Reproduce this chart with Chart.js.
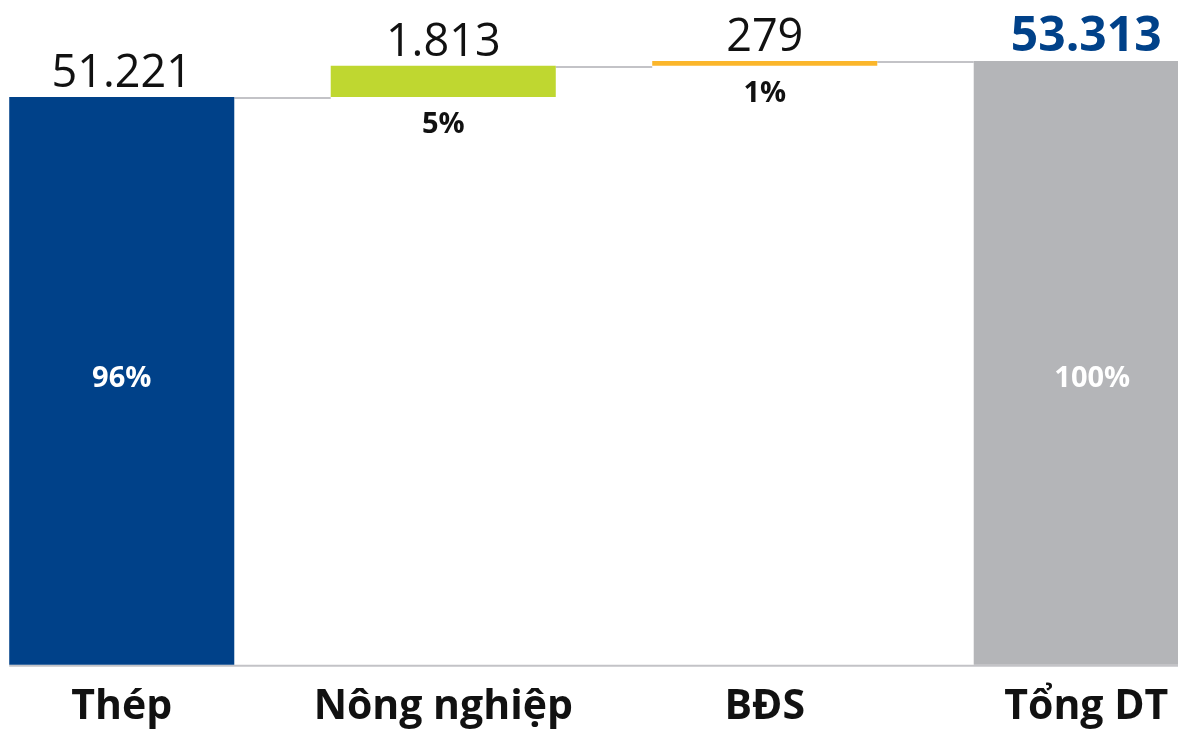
<!DOCTYPE html>
<html>
<head>
<meta charset="utf-8">
<script src="https://cdn.jsdelivr.net/npm/chart.js@4"></script>
<style>
  html, body { margin: 0; padding: 0; background: #ffffff; overflow: hidden; }
  body { width: 1178px; height: 730px; position: relative; }
  #wrap { position: absolute; left: -39px; top: 0; width: 1286px; height: 730px; }
</style>
</head>
<body>
<div id="wrap"><canvas id="c"></canvas></div>
<script>
const categories = ["Thép", "Nông nghiệp", "BĐS", "Tổng DT"];
const values = [51221, 1813, 279, 53313];
const isTotal = [false, false, false, true];
const valueLabels = ["51.221", "1.813", "279", "53.313"];
const percentLabels = ["96%", "5%", "1%", "100%"];
const colors = ["#004189", "#bfd730", "#fbb62b", "#b4b5b8"];

// build floating ranges for the waterfall
const ranges = [];
let run = 0;
values.forEach((v, i) => {
  if (isTotal[i]) { ranges.push([0, v]); run = v; }
  else { ranges.push([run, run + v]); run += v; }
});

const FONT = "'Open Sans', 'Noto Sans', sans-serif";

const waterfallDecor = {
  id: 'waterfallDecor',
  beforeDatasetsDraw(chart) {
    const ctx = chart.ctx;
    const meta = chart.getDatasetMeta(0);
    const y = chart.scales.y;
    const area = chart.chartArea;
    ctx.save();
    ctx.strokeStyle = '#c3c3c7';
    ctx.lineWidth = 2;
    for (let i = 0; i < meta.data.length - 1; i++) {
      const a = meta.data[i], b = meta.data[i + 1];
      const level = ranges[i][1];
      const py = Math.round(y.getPixelForValue(level)) + 1;
      ctx.beginPath();
      ctx.moveTo(a.x + a.width / 2, py);
      ctx.lineTo(b.x - b.width / 2, py);
      ctx.stroke();
    }
    const first = meta.data[0];
    ctx.beginPath();
    ctx.moveTo(first.x - first.width / 2, area.bottom + 1);
    ctx.lineTo(area.right, area.bottom + 1);
    ctx.stroke();
    ctx.restore();
  },
  afterDatasetsDraw(chart) {
    const ctx = chart.ctx;
    const meta = chart.getDatasetMeta(0);
    const y = chart.scales.y;
    const area = chart.chartArea;
    const insideY = (y.getPixelForValue(ranges[0][1]) + area.bottom) / 2 - 2;
    ctx.save();
    ctx.textAlign = 'center';
    meta.data.forEach((bar, i) => {
      const top = y.getPixelForValue(ranges[i][1]);
      const bottom = Math.min(y.getPixelForValue(ranges[i][0]), area.bottom);
      if (isTotal[i]) {
        ctx.font = "bold 48px " + FONT;
        ctx.fillStyle = '#004189';
      } else {
        ctx.font = "45px " + FONT;
        ctx.fillStyle = '#111111';
      }
      ctx.textBaseline = 'alphabetic';
      ctx.fillText(valueLabels[i], bar.x, top - 10);
      ctx.font = "bold 29px " + FONT;
      ctx.textBaseline = 'middle';
      if (isTotal[i] || i === 0) {
        ctx.fillStyle = '#ffffff';
        ctx.fillText(percentLabels[i], bar.x + (isTotal[i] ? 6 : 0), insideY);
      } else {
        ctx.fillStyle = '#111111';
        ctx.fillText(percentLabels[i], bar.x, bottom + 28);
      }
    });
    ctx.restore();
  }
};

new Chart(document.getElementById('c'), {
  type: 'bar',
  data: {
    labels: categories,
    datasets: [{
      data: ranges,
      backgroundColor: colors,
      borderWidth: 0,
      barPercentage: 0.7,
      categoryPercentage: 1.0
    }]
  },
  options: {
    responsive: true,
    maintainAspectRatio: false,
    animation: false,
    layout: { padding: { top: 0, bottom: -20, left: 0, right: 0 } },
    plugins: { legend: { display: false }, tooltip: { enabled: false } },
    scales: {
      x: {
        grid: { display: false, drawTicks: false },
        border: { display: false },
        ticks: {
          color: '#111111',
          padding: 18,
          font: { family: FONT, size: 41, weight: 'bold' }
        }
      },
      y: {
        display: false,
        min: 18200,
        max: 56860
      }
    }
  },
  plugins: [waterfallDecor]
});
</script>
</body>
</html>
